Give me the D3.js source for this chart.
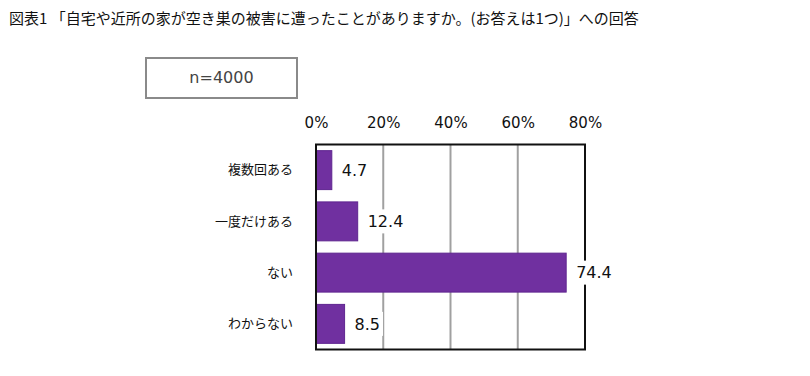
<!DOCTYPE html>
<html><head><meta charset="utf-8">
<script src="https://cdn.jsdelivr.net/npm/d3@7"></script>
<style>body{margin:0;background:#fff}svg{display:block}</style>
</head><body>
<svg id="c" width="810" height="376"></svg>
<script>
const title = "図表1 「自宅や近所の家が空き巣の被害に遭ったことがありますか。(お答えは1つ)」への回答";
const sampleLabel = "n=4000";
const categories = ["複数回ある", "一度だけある", "ない", "わからない"];
const values = [4.7, 12.4, 74.4, 8.5];
const ticks = [0, 20, 40, 60, 80];

const svg = d3.select("#c");
const jp = "'Noto Sans CJK JP','Noto Sans',sans-serif";
const num = "'DejaVu Sans',Verdana,sans-serif";

svg.append("text").attr("x", 9).attr("y", 24).attr("font-family", jp)
  .attr("font-size", 15).attr("fill", "#111").text(title);

svg.append("rect").attr("x", 146).attr("y", 58).attr("width", 151).attr("height", 40)
  .attr("fill", "#fff").attr("stroke", "#8a8a8a").attr("stroke-width", 2);
svg.append("text").attr("x", 221.5).attr("y", 83).attr("text-anchor", "middle")
  .attr("font-family", num).attr("font-size", 16).attr("fill", "#444").text(sampleLabel);

const x = d3.scaleLinear().domain([0, 80]).range([316, 585]);
const y = d3.scaleBand().domain(categories).range([144.5, 349.5]).paddingInner(0.24).paddingOuter(0.12);

const g = svg.append("g");
// gridlines
g.selectAll("line.grid").data(ticks.filter(t => t > 0 && t < 80)).join("line")
  .attr("x1", d => x(d)).attr("x2", d => x(d)).attr("y1", 144.5).attr("y2", 349.5)
  .attr("stroke", "#a0a0a0").attr("stroke-width", 2);

// top axis labels
const ax = d3.axisTop(x).tickValues(ticks).tickFormat(d => d + "%").tickSize(0).tickPadding(0);
const axg = svg.append("g").attr("transform", "translate(0,128)").call(ax);
axg.select(".domain").remove();
axg.selectAll("text").attr("font-family", num).attr("font-size", 15).attr("fill", "#111").attr("dy", 0);

// bars
g.selectAll("rect.bar").data(values).join("rect")
  .attr("x", x(0)).attr("y", (d, i) => y(categories[i]))
  .attr("width", d => x(d) - x(0)).attr("height", y.bandwidth())
  .attr("fill", "#7030a0").attr("stroke", "#5f2590").attr("stroke-width", 1);

// border
svg.append("rect").attr("x", 316).attr("y", 144.5).attr("width", 269).attr("height", 205)
  .attr("fill", "none").attr("stroke", "#111").attr("stroke-width", 2);

// value labels with white background
const lab = svg.append("g").selectAll("g").data(values).join("g")
  .attr("transform", (d, i) => `translate(${x(d) + 10},${y(categories[i]) + y.bandwidth() / 2})`);
lab.append("rect").attr("x", -3).attr("y", -12).attr("height", 24).attr("fill", "#fff");
lab.append("text").attr("dy", "0.36em").attr("font-family", num).attr("font-size", 16)
  .attr("fill", "#111").text(d => d.toFixed(1));
lab.each(function () {
  const t = d3.select(this).select("text").node().getComputedTextLength();
  d3.select(this).select("rect").attr("width", t + 6);
});

// category labels
const yx = d3.axisLeft(y).tickSize(0).tickPadding(0);
const yg = svg.append("g").attr("transform", "translate(293,0)").call(yx);
yg.select(".domain").remove();
yg.selectAll("text").attr("font-family", jp).attr("font-size", 13).attr("fill", "#111");
</script>
</body></html>
